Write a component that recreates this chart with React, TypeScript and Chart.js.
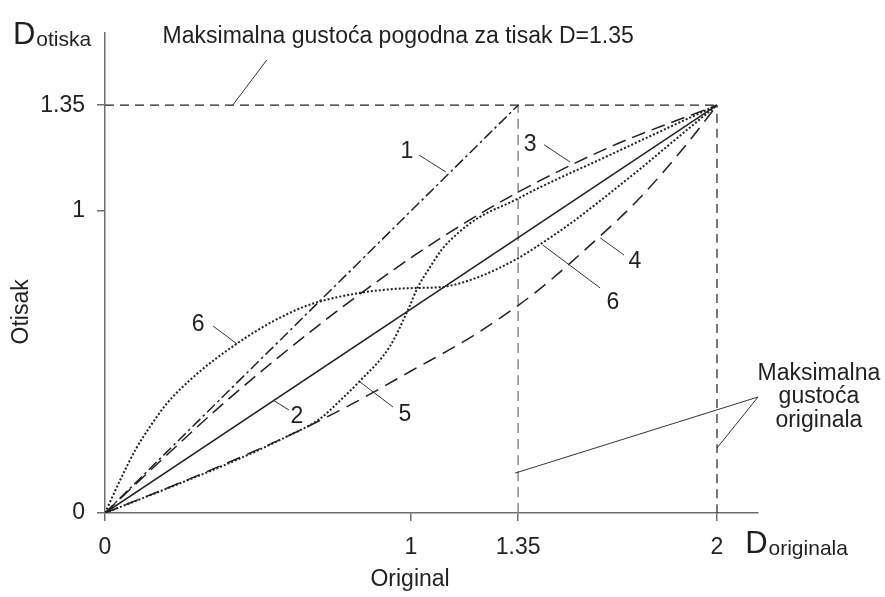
import { useEffect, useRef } from 'react';
import { Chart, registerables } from 'chart.js';

Chart.register(...registerables);

// ---------- data ----------
const xTickValues = [0, 1, 1.35, 2];
const xTickLabels = ['0', '1', '1.35', '2'];
const yTickValues = [0, 1, 1.35];
const yTickLabels = ['0', '1', '1.35'];

const line1X = [0, 1.35];
const line1Y = [0, 1.35];

const line2X = [0, 2];
const line2Y = [0, 1.35];

const curve3X = [0, 0.2, 0.4, 0.7, 0.95, 1.1, 1.25, 1.4, 1.66, 2];
const curve3Y = [0, 0.19, 0.374, 0.623, 0.81, 0.912, 1.005, 1.089, 1.216, 1.35];

const curve4X = [0, 0.3, 0.6, 0.8, 1.0, 1.2, 1.4, 1.6, 1.75, 1.9, 2];
const curve4Y = [0, 0.123, 0.256, 0.357, 0.47, 0.585, 0.725, 0.9, 1.045, 1.22, 1.35];

const curve5X = [0, 0.2, 0.435, 0.6, 0.7, 0.77, 0.83, 0.93, 0.99, 1.023, 1.056, 1.1, 1.154, 1.22, 1.34, 1.405, 1.66, 1.85, 2];
const curve5Y = [0, 0.08, 0.178, 0.256, 0.31, 0.374, 0.434, 0.55, 0.672, 0.749, 0.804, 0.871, 0.927, 0.977, 1.036, 1.07, 1.19, 1.28, 1.35];

const curve6X = [0, 0.05, 0.1, 0.15, 0.2, 0.3, 0.43, 0.55, 0.67, 0.83, 0.95, 1.02, 1.1, 1.22, 1.34, 1.405, 1.53, 1.62, 1.75, 1.88, 2];
const curve6Y = [0, 0.11, 0.21, 0.29, 0.36, 0.46, 0.56, 0.635, 0.69, 0.728, 0.742, 0.745, 0.748, 0.781, 0.838, 0.878, 0.965, 1.035, 1.14, 1.25, 1.35];

const maxPrintDensity = 1.35;
const maxOriginalDensity = 2;

// curve number labels
const curveLabelTexts = ['1', '3', '4', '6', '6', '2', '5'];
const curveLabelX = [0.987, 1.389, 1.732, 1.66, 0.304, 0.627, 0.98];
const curveLabelY = [1.195, 1.219, 0.831, 0.695, 0.623, 0.318, 0.325];

// leader lines (polylines in data units)
const leaderLines: number[][][] = [
  [[0.529, 1.5], [0.418, 1.351]],
  [[1.026, 1.185], [1.114, 1.129]],
  [[1.435, 1.219], [1.52, 1.162]],
  [[1.618, 0.911], [1.696, 0.854]],
  [[1.431, 0.887], [1.618, 0.745]],
  [[0.353, 0.619], [0.431, 0.56]],
  [[0.549, 0.374], [0.601, 0.341]],
  [[0.833, 0.434], [0.941, 0.351]],
  [[1.34, 0.132], [2.134, 0.384], [2, 0.215]],
];

const topNote = 'Maksimalna gustoća pogodna za tisak D=1.35';
const topNoteAt = [0.958, 1.556];
const sideNoteLines = ['Maksimalna', 'gustoća', 'originala'];
const sideNoteX = 2.333;
const sideNoteY = [0.44, 0.364, 0.285];

const yAxisTitle = 'Otisak';
const yAxisTitleAt = [-0.271, 0.666];
const xAxisTitle = 'Original';
const xAxisTitleAt = [0.997, -0.222];

const yUnitMain = 'D';
const yUnitSub = 'otiska';
const yUnitAt = [-0.301, 1.553];
const xUnitMain = 'D';
const xUnitSub = 'originala';
const xUnitAt = [2.092, -0.132];

// ---------- helpers ----------
const FONT = '"Liberation Sans", Arial, Helvetica, sans-serif';
const TEXT = '#231f20';
const LINE = '#231f20';
const AXIS = '#6e6e6e';

const pts = (xs: number[], ys: number[]) => xs.map((x, i) => ({ x, y: ys[i] }));

const annotationPlugin = {
  id: 'annotations',
  afterDraw(chart: any) {
    const { ctx } = chart;
    const xs = chart.scales.x;
    const ys = chart.scales.y;
    const px = (v: number) => xs.getPixelForValue(v);
    const py = (v: number) => ys.getPixelForValue(v);
    ctx.save();
    // leaders
    ctx.strokeStyle = '#333';
    ctx.lineWidth = 1;
    ctx.setLineDash([]);
    leaderLines.forEach((seg) => {
      ctx.beginPath();
      seg.forEach(([a, b], i) => {
        if (i === 0) ctx.moveTo(px(a), py(b));
        else ctx.lineTo(px(a), py(b));
      });
      ctx.stroke();
    });
    ctx.fillStyle = TEXT;
    // curve labels
    ctx.font = `23px ${FONT}`;
    ctx.textAlign = 'center';
    ctx.textBaseline = 'middle';
    curveLabelTexts.forEach((t, i) => {
      ctx.fillText(t, px(curveLabelX[i]), py(curveLabelY[i]));
    });
    // top note
    ctx.textBaseline = 'alphabetic';
    ctx.fillText(topNote, px(topNoteAt[0]), py(topNoteAt[1]));
    // side note
    sideNoteLines.forEach((t, i) => {
      ctx.fillText(t, px(sideNoteX), py(sideNoteY[i]));
    });
    // axis titles
    ctx.textBaseline = 'middle';
    ctx.fillText(xAxisTitle, px(xAxisTitleAt[0]), py(xAxisTitleAt[1]));
    ctx.save();
    ctx.translate(px(yAxisTitleAt[0]), py(yAxisTitleAt[1]));
    ctx.rotate(-Math.PI / 2);
    ctx.fillText(yAxisTitle, 0, 0);
    ctx.restore();
    // unit labels D_sub
    const drawUnit = (main: string, sub: string, at: number[]) => {
      ctx.textAlign = 'left';
      ctx.textBaseline = 'alphabetic';
      ctx.font = `31px ${FONT}`;
      const x0 = px(at[0]);
      const y0 = py(at[1]);
      ctx.fillText(main, x0, y0);
      const w = ctx.measureText(main).width;
      ctx.font = `21px ${FONT}`;
      ctx.fillText(sub, x0 + w + 1, y0 + 2);
    };
    drawUnit(yUnitMain, yUnitSub, yUnitAt);
    drawUnit(xUnitMain, xUnitSub, xUnitAt);
    ctx.restore();
  },
};

export default function App() {
  const ref = useRef<HTMLCanvasElement>(null);
  useEffect(() => {
    document.body.style.margin = '0';
    const canvas = ref.current!;
    const base = {
      pointRadius: 0,
      pointHoverRadius: 0,
      fill: false,
      borderColor: LINE,
      borderWidth: 1.5,
      cubicInterpolationMode: 'monotone' as const,
    };
    const chart = new Chart(canvas, {
      type: 'line',
      data: {
        datasets: [
          { ...base, label: '1', data: pts(line1X, line1Y), borderDash: [11, 3.5, 2.5, 3.5] },
          { ...base, label: '2', data: pts(line2X, line2Y) },
          { ...base, label: '3', data: pts(curve3X, curve3Y), borderDash: [14, 7] },
          { ...base, label: '4', data: pts(curve4X, curve4Y), borderDash: [14, 8] },
          { ...base, label: '5', data: pts(curve5X, curve5Y), borderDash: [2, 2], borderWidth: 2 },
          { ...base, label: '6', data: pts(curve6X, curve6Y), borderDash: [2, 2], borderWidth: 2 },
          {
            ...base,
            label: 'D=1.35',
            data: [{ x: 0, y: maxPrintDensity }, { x: maxOriginalDensity, y: maxPrintDensity }],
            borderDash: [9, 6],
            borderWidth: 1.2,
          },
          {
            ...base,
            label: 'x=2',
            data: [{ x: maxOriginalDensity, y: 0 }, { x: maxOriginalDensity, y: maxPrintDensity }],
            borderDash: [9, 6],
            borderWidth: 1.2,
          },
          {
            ...base,
            label: 'x=1.35',
            data: [{ x: maxPrintDensity, y: 0 }, { x: maxPrintDensity, y: maxPrintDensity }],
            borderDash: [10, 6],
            borderWidth: 1.4,
            borderColor: '#808080',
          },
        ],
      },
      options: {
        responsive: false,
        animation: false,
        events: [],
        layout: { padding: { left: 0, right: 127, top: 33, bottom: 0 } },
        plugins: { legend: { display: false }, tooltip: { enabled: false } },
        scales: {
          x: {
            type: 'linear',
            min: 0,
            max: 2.134,
            afterBuildTicks: (scale: any) => {
              scale.ticks = xTickValues.map((value) => ({ value }));
            },
            afterFit: (scale: any) => {
              scale.height = 84;
            },
            ticks: {
              padding: 13,
              color: TEXT,
              font: { family: FONT, size: 23 },
              maxRotation: 0,
              autoSkip: false,
              callback: (v: any) => {
                const i = xTickValues.indexOf(Number(v));
                return i >= 0 ? xTickLabels[i] : '';
              },
            },
            grid: { display: true, drawOnChartArea: false, drawTicks: true, tickLength: 8, color: AXIS, lineWidth: 1.5 },
            border: { display: true, color: AXIS, width: 1.5 },
          },
          y: {
            type: 'linear',
            min: 0,
            max: 1.589,
            afterBuildTicks: (scale: any) => {
              scale.ticks = yTickValues.map((value) => ({ value }));
            },
            afterFit: (scale: any) => {
              scale.width = 105;
            },
            ticks: {
              padding: 12,
              color: TEXT,
              font: { family: FONT, size: 23 },
              autoSkip: false,
              callback: (v: any) => {
                const i = yTickValues.indexOf(Number(v));
                return i >= 0 ? yTickLabels[i] : '';
              },
            },
            grid: { display: true, drawOnChartArea: false, drawTicks: true, tickLength: 8, color: AXIS, lineWidth: 1.5 },
            border: { display: true, color: AXIS, width: 1.5 },
          },
        },
      },
      plugins: [annotationPlugin],
    });
    return () => chart.destroy();
  }, []);
  return (
    <div style={{ width: 885, height: 597, background: '#fff' }}>
      <canvas ref={ref} width={885} height={597} style={{ width: 885, height: 597, display: 'block' }} />
    </div>
  );
}
